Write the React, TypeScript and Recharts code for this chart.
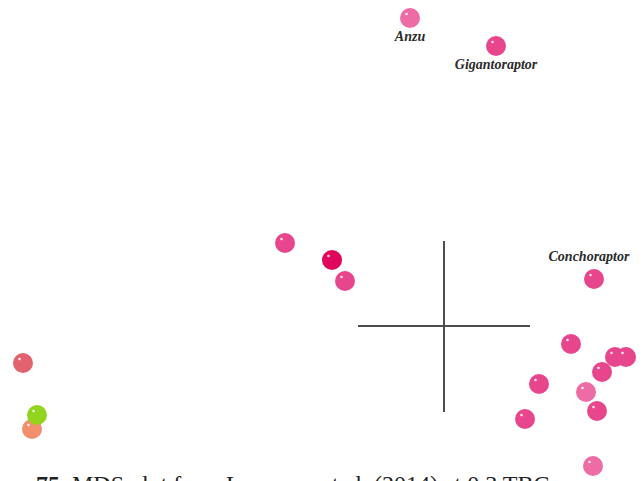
import { ScatterChart, Scatter, XAxis, YAxis, ReferenceLine } from 'recharts'

// MDS coordinates, origin at the cross
const mainPink = [
  { x: 0.52, y: 2.8, name: 'Gigantoraptor' },
  { x: 1.5, y: 0.47, name: 'Conchoraptor' },
  { x: -1.59, y: 0.83 },
  { x: -0.99, y: 0.45 },
  { x: 1.27, y: -0.18 },
  { x: 1.71, y: -0.31 },
  { x: 1.82, y: -0.31 },
  { x: 1.58, y: -0.46 },
  { x: 0.95, y: -0.58 },
  { x: 1.53, y: -0.85 },
  { x: 0.81, y: -0.93 },
]
const lightPink = [
  { x: -0.34, y: 3.08, name: 'Anzu' },
  { x: 1.42, y: -0.66 },
  { x: 1.49, y: -1.4 },
]
const deepPink = [{ x: -1.12, y: 0.66 }]
const redGroup = [{ x: -4.21, y: -0.37 }]
const salmonGroup = [{ x: -4.12, y: -1.03 }]
const greenGroup = [{ x: -4.07, y: -0.89 }]

const caption = 'MDS plot from Lamanna et al. (2014) at 0.3 TBC'

const labelOffset: Record<string, [number, number]> = {
  Anzu: [0, 23],
  Gigantoraptor: [0, 23],
  Conchoraptor: [-5, -18],
}

function Dot(props: any) {
  const { cx, cy, fill, payload } = props
  const name = payload?.name
  const off = name ? labelOffset[name] : null
  return (
    <g>
      <circle cx={cx} cy={cy} r={10} fill={fill} />
      <circle cx={cx - 3.5} cy={cy - 4} r={1.3} fill="#fff" opacity={0.85} />
      {name && off && (
        <text
          x={cx + off[0]}
          y={cy + off[1]}
          textAnchor="middle"
          fontFamily="Liberation Serif, serif"
          fontStyle="italic"
          fontWeight="bold"
          fontSize={14}
          fill="#2a2a2a"
        >
          {name}
        </text>
      )}
    </g>
  )
}

export default function App() {
  return (
    <div style={{ position: 'fixed', left: 0, top: 0, width: 642, height: 481, overflow: 'hidden', background: '#fff' }}>
      <ScatterChart width={642} height={481} margin={{ top: 0, right: 0, bottom: 0, left: 0 }}>
        <XAxis type="number" dataKey="x" domain={[-4.44, 1.98]} hide allowDataOverflow />
        <YAxis type="number" dataKey="y" domain={[-1.55, 3.26]} hide allowDataOverflow />
        <ReferenceLine segment={[{ x: 0, y: -0.86 }, { x: 0, y: 0.85 }]} stroke="#4d4d4d" strokeWidth={2} />
        <ReferenceLine segment={[{ x: -0.86, y: 0 }, { x: 0.86, y: 0 }]} stroke="#4d4d4d" strokeWidth={2} />
        <Scatter data={salmonGroup} fill="#f28f6c" shape={Dot} isAnimationActive={false} />
        <Scatter data={greenGroup} fill="#93d41e" shape={Dot} isAnimationActive={false} />
        <Scatter data={redGroup} fill="#e2636f" shape={Dot} isAnimationActive={false} />
        <Scatter data={mainPink} fill="#e8468c" shape={Dot} isAnimationActive={false} />
        <Scatter data={lightPink} fill="#ee6ca6" shape={Dot} isAnimationActive={false} />
        <Scatter data={deepPink} fill="#e0065c" shape={Dot} isAnimationActive={false} />
      </ScatterChart>
      <div
        style={{
          position: 'absolute',
          left: 36,
          top: 472,
          fontFamily: 'Liberation Serif, serif',
          fontSize: 24,
          lineHeight: '24px',
          color: '#222',
          whiteSpace: 'nowrap',
        }}
      >
        <b>75.</b> {caption}
      </div>
    </div>
  )
}
